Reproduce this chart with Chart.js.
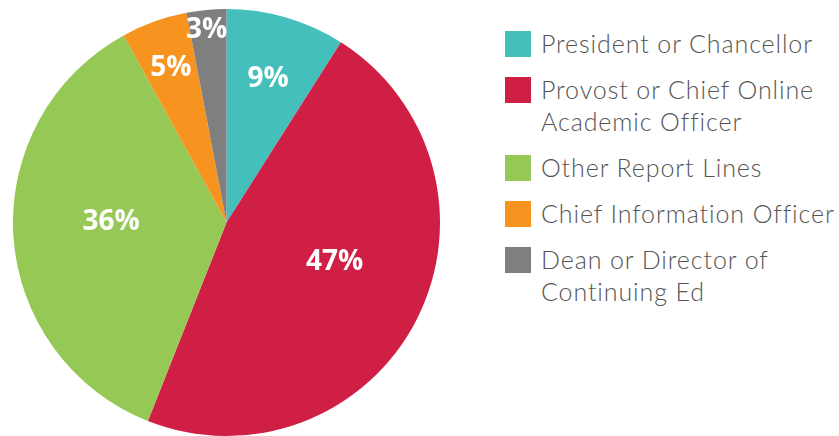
<!DOCTYPE html>
<html>
<head>
<meta charset="utf-8">
<script src="https://cdn.jsdelivr.net/npm/chart.js@4/dist/chart.umd.min.js"></script>
<style>
  html, body { margin: 0; padding: 0; background: #fff; width: 839px; height: 436px; overflow: hidden; }
  #wrap { position: absolute; left: 13px; top: 9px; width: 427px; height: 427px; }
  #legend { position: absolute; left: 505px; top: 27px; width: 334px; font-family: Lato, "Open Sans", sans-serif; font-weight: 300; font-size: 25px; letter-spacing: 0.9px; color: #555555; }
  .item { display: flex; align-items: flex-start; margin-bottom: 14px; }
  .sw { width: 26px; height: 26px; flex: 0 0 26px; margin-top: 4px; margin-right: 10px; }
  .txt { line-height: 32px; white-space: pre-line; }
</style>
</head>
<body>
<div id="wrap"><canvas id="c" width="427" height="427"></canvas></div>
<div id="legend"></div>
<script>
const categories = ['President or Chancellor', 'Provost or Chief Online\nAcademic Officer', 'Other Report Lines', 'Chief Information Officer', 'Dean or Director of\nContinuing Ed'];
const values = [9, 47, 36, 5, 3];
const colors = ['#45BFBC', '#D01F45', '#96C855', '#F7941F', '#7F7F7F'];

// legend
const lg = document.getElementById('legend');
categories.forEach((c, i) => {
  const d = document.createElement('div'); d.className = 'item';
  const s = document.createElement('div'); s.className = 'sw'; s.style.background = colors[i];
  const t = document.createElement('div'); t.className = 'txt'; t.textContent = c;
  d.appendChild(s); d.appendChild(t); lg.appendChild(d);
});

const labelPlugin = {
  id: 'sliceLabels',
  afterDatasetsDraw(chart, args, opts) {
    const ctx = chart.ctx;
    const meta = chart.getDatasetMeta(0);
    ctx.save();
    ctx.fillStyle = '#fff';
    ctx.font = 'bold 28px "Open Sans", sans-serif';
    ctx.textAlign = 'center';
    ctx.textBaseline = 'middle';
    meta.data.forEach((arc, i) => {
      const p = arc.getProps(['x', 'y', 'startAngle', 'endAngle', 'outerRadius'], true);
      const a = (p.startAngle + p.endAngle) / 2 + opts.angleShift[i] * Math.PI / 180;
      const r = p.outerRadius * opts.radius[i];
      ctx.fillText(values[i] + '%', p.x + Math.cos(a) * r, p.y + Math.sin(a) * r);
    });
    ctx.restore();
  }
};

new Chart(document.getElementById('c'), {
  type: 'pie',
  data: { labels: categories, datasets: [{ data: values, backgroundColor: colors, borderWidth: 0 }] },
  options: {
    responsive: false,
    animation: false,
    layout: { padding: 0 },
    plugins: {
      legend: { display: false },
      tooltip: { enabled: false },
      sliceLabels: { radius: [0.70, 0.54, 0.54, 0.77, 0.905], angleShift: [0, -6.7, 3.6, 0, -0.5] }
    }
  },
  plugins: [labelPlugin]
});
</script>
</body>
</html>
